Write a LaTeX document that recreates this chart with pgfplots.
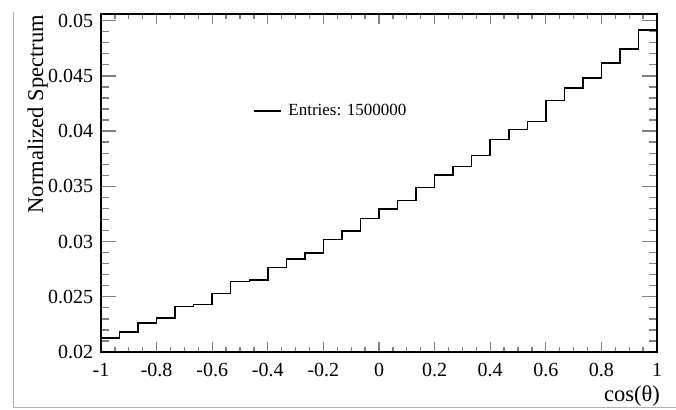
\documentclass[border=0pt]{standalone}
\usepackage{fontspec}
\setmainfont{Liberation Serif}
\usepackage{pgfplots}
\pgfplotsset{compat=1.18}

% cos(theta) histogram, 30 bins on [-1,1]; values are bin contents
\pgfplotstableread{
x y
-1.0000 0.02127
-0.9333 0.02181
-0.8667 0.02263
-0.8000 0.02308
-0.7333 0.02413
-0.6667 0.02431
-0.6000 0.02528
-0.5333 0.02637
-0.4667 0.02652
-0.4000 0.02764
-0.3333 0.02842
-0.2667 0.02897
-0.2000 0.03017
-0.1333 0.03096
-0.0667 0.03210
0.0000 0.03295
0.0667 0.03373
0.1333 0.03491
0.2000 0.03603
0.2667 0.03681
0.3333 0.03778
0.4000 0.03923
0.4667 0.04014
0.5333 0.04089
0.6000 0.04279
0.6667 0.04391
0.7333 0.04482
0.8000 0.04618
0.8667 0.04745
0.9333 0.04913
1.0000 0.04913
}\histdata

\begin{document}
\begin{tikzpicture}
\path[use as bounding box] (0pt,0pt) rectangle (676pt,409pt);
\draw[black!30, line width=1pt] (13pt,1.5pt) -- (13pt,397pt);
\draw[black!30, line width=1pt] (13pt,1.5pt) -- (676pt,1.5pt);
\begin{axis}[
  at={(101pt,57pt)}, anchor=south west,
  scale only axis, width=556pt, height=338pt,
  xmin=-1, xmax=1, ymin=0.02, ymax=0.0506,
  scaled y ticks=false, scaled x ticks=false,
  axis line style={line width=1.3pt},
  tick align=inside,
  xtick={-1,-0.8,-0.6,-0.4,-0.2,0,0.2,0.4,0.6,0.8,1},
  xticklabels={-1,-0.8,-0.6,-0.4,-0.2,0,0.2,0.4,0.6,0.8,1},
  ytick={0.02,0.025,0.03,0.035,0.04,0.045,0.05},
  yticklabels={0.02,0.025,0.03,0.035,0.04,0.045,0.05},
  minor x tick num=3, minor y tick num=4,
  xtick style={line width=1.3pt, /pgfplots/major tick length=10pt, /pgfplots/minor tick length=5pt},
  ytick style={line width=1.3pt, /pgfplots/major tick length=15pt, /pgfplots/minor tick length=8pt},
  tick label style={font=\fontsize{20pt}{24pt}\selectfont, inner sep=0pt},
  xticklabel style={anchor=north, yshift=-11pt},
  yticklabel style={anchor=east, xshift=-7.7pt},
  ylabel={Normalized Spectrum},
  ylabel style={font=\fontsize{22.5pt}{27pt}\selectfont, inner sep=0pt,
    at={(rel axis cs:-0.1043,0.997)}, anchor=base east},
  xlabel={cos(θ)},
  xlabel style={font=\fontsize{22.5pt}{27pt}\selectfont, inner sep=0pt,
    at={(rel axis cs:1.0054,-0.1464)}, anchor=base east},
  legend style={at={(rel axis cs:0.2734,0.713)}, anchor=west, draw=none, fill=none,
    inner sep=0pt, font=\fontsize{17pt}{20pt}\selectfont,
    nodes={inner sep=0pt}, /tikz/column sep=6.7pt},
  legend image code/.code={\draw[line width=1.5pt] (0pt,0pt) -- (27pt,0pt);},
]
\addplot[const plot, black, line width=1.5pt] table[x=x, y=y] {\histdata};
\addlegendentry{Entries: 1500000}
\end{axis}
\end{tikzpicture}
\end{document}
